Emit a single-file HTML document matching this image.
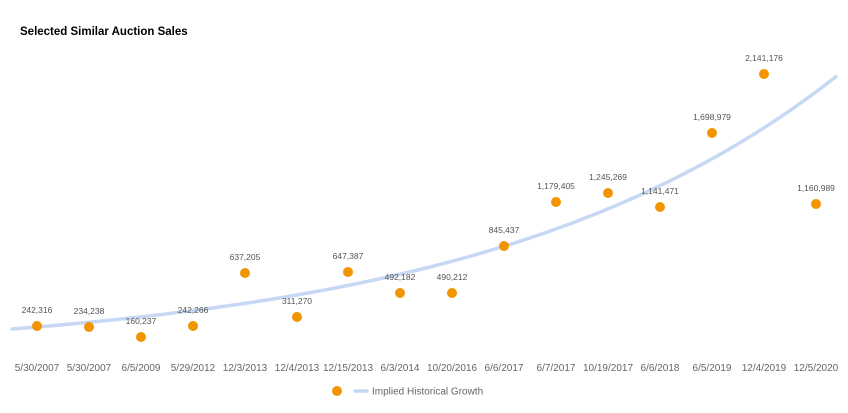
<!DOCTYPE html>
<html><head><meta charset="utf-8"><style>
body{margin:0;background:#fff;font-family:"Liberation Sans",Arial,sans-serif}
svg{display:block}
</style></head><body>
<svg id="s" width="848" height="413" xmlns="http://www.w3.org/2000/svg">
<rect width="848" height="413" fill="#fff"/>
<text x="20" y="35" font-size="11.5" font-weight="bold" fill="#000">Selected Similar Auction Sales</text>
<path id="curve" fill="none" stroke="#c6d8f3" stroke-width="3.5" stroke-linecap="round"/>
<g id="pts"></g>
<g font-size="10" fill="#666" text-anchor="middle" id="ax"></g>
<circle cx="337" cy="391" r="5" fill="#f29400"/>
<line x1="355" y1="391" x2="367" y2="391" stroke="#c6d8f3" stroke-width="3.5" stroke-linecap="round"/>
<text x="372" y="394.5" font-size="10" fill="#666">Implied Historical Growth</text>
</svg>
<script>
var d="";for(var x=12;x<=838;x+=4){var y=329-27.9*(Math.exp(0.0028*(x-12))-1);d+=(x==12?"M":"L")+x+","+y.toFixed(1);}
document.getElementById("curve").setAttribute("d",d);
var xs=[37,89,141,193,245,297,348,400,452,504,556,608,660,712,764,816];
var ys=[326,327,337,326,273,317,272,293,293,246,202,193,207,133,74,204];
var v=["242,316","234,238","160,237","242,266","637,205","311,270","647,387","492,182","490,212","845,437","1,179,405","1,245,269","1,141,471","1,698,979","2,141,176","1,160,989"];
var dt=["5/30/2007","5/30/2007","6/5/2009","5/29/2012","12/3/2013","12/4/2013","12/15/2013","6/3/2014","10/20/2016","6/6/2017","6/7/2017","10/19/2017","6/6/2018","6/5/2019","12/4/2019","12/5/2020"];
var h="",a="";
for(var i=0;i<16;i++){h+='<circle cx="'+xs[i]+'" cy="'+ys[i]+'" r="5" fill="#f29400"/><text x="'+xs[i]+'" y="'+(ys[i]-13)+'" font-size="8.5" fill="#555" text-anchor="middle">'+v[i]+'</text>';
a+='<text x="'+xs[i]+'" y="371">'+dt[i]+'</text>';}
document.getElementById("pts").innerHTML=h;document.getElementById("ax").innerHTML=a;
</script>
</body></html>
